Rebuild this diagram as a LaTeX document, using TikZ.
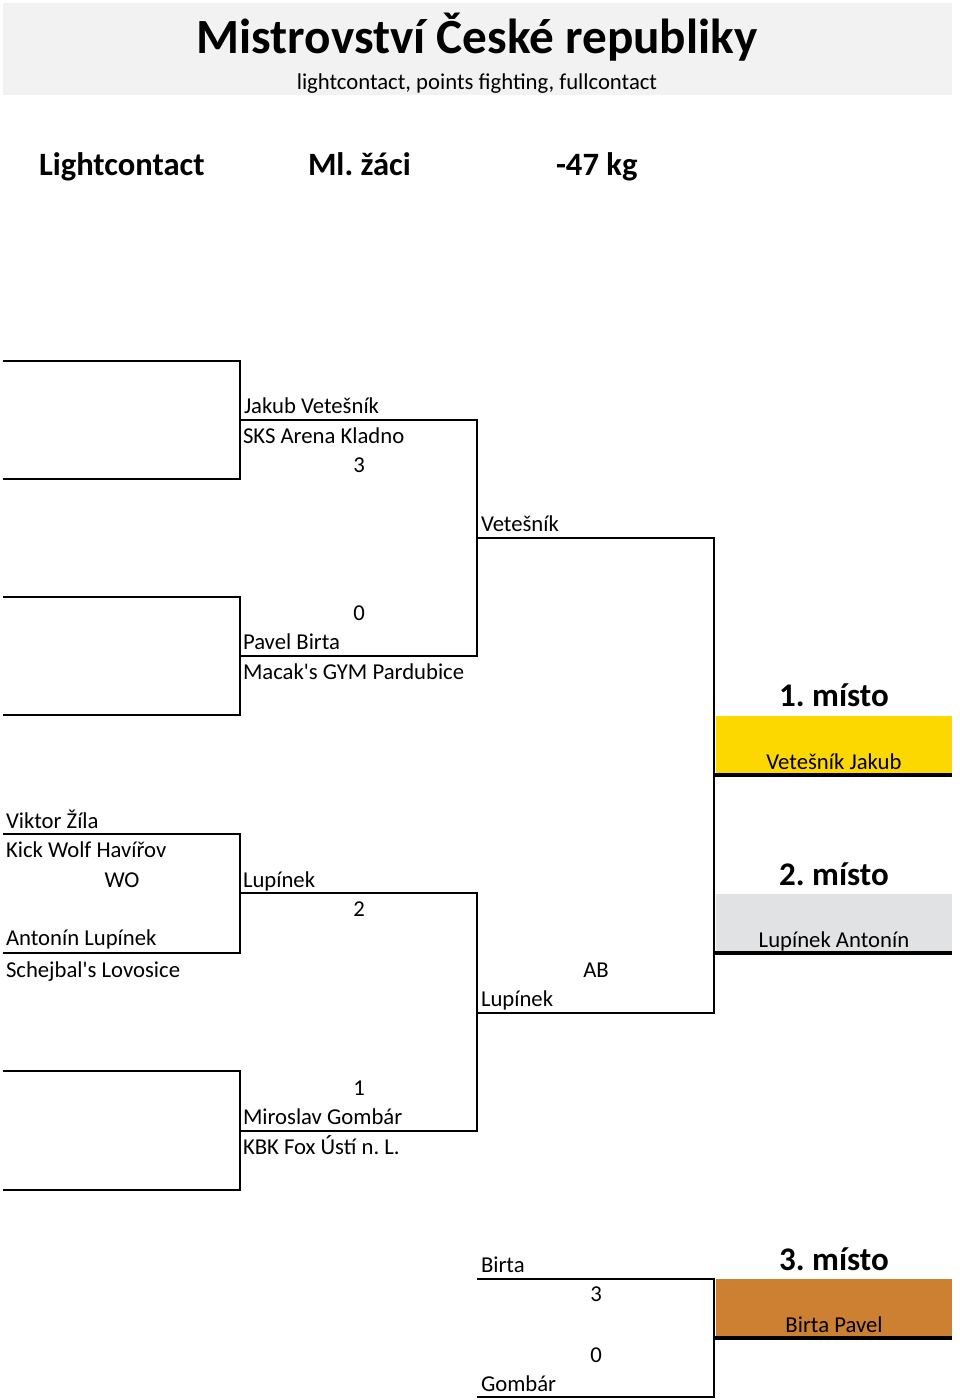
\documentclass[tikz,border=0pt]{standalone}
\usepackage{fontspec}
\setmainfont{Carlito}
\definecolor{hdrgray}{HTML}{F2F2F2}
\definecolor{gold}{HTML}{FDD700}
\definecolor{silver}{HTML}{E1E2E4}
\definecolor{bronze}{HTML}{CD7F32}
\begin{document}
\frenchspacing
\begin{tikzpicture}[x=1pt,y=-1pt,line width=2pt,line join=miter,
  bt/.style={font=\fontsize{22.7}{26}\selectfont,inner sep=0pt,anchor=base west,yshift=-1pt},
  bc/.style={font=\fontsize{22.7}{26}\selectfont,inner sep=0pt,anchor=base,yshift=-1pt},
  hb/.style={font=\fontsize{32.6}{38}\selectfont\bfseries,inner sep=0pt,anchor=base west},
  place/.style={font=\fontsize{33}{38}\selectfont\bfseries,inner sep=0pt,anchor=base,yshift=-1pt},
  thick line/.style={line width=4pt}]
\fill[white] (0,0) rectangle (960,1400);
\useasboundingbox (0,0) rectangle (960,1400);
% header band
\fill[hdrgray] (3,3) rectangle (952,95);
\node[font=\fontsize{49.2}{56}\selectfont\bfseries,inner sep=0pt,anchor=base] (title) at (477,53) {Mistrovství České republiky};
\node[bc] (sub) at (477,88) {lightcontact, points fighting, fullcontact};
\node[hb] (disc) at (38,175) {Lightcontact};
\node[hb] (cat) at (307,175) {Ml. žáci};
\node[hb] (wt) at (555,175) {-47 kg};
% coordinates of bracket
\coordinate (a1) at (3,361); \coordinate (a2) at (240,361);
\coordinate (a3) at (240,479); \coordinate (a4) at (3,479);
\coordinate (b1) at (3,597); \coordinate (b2) at (240,597);
\coordinate (b3) at (240,715); \coordinate (b4) at (3,715);
\coordinate (c1) at (3,834); \coordinate (c2) at (240,834);
\coordinate (c3) at (240,953); \coordinate (c4) at (3,953);
\coordinate (d1) at (3,1071); \coordinate (d2) at (240,1071);
\coordinate (d3) at (240,1190); \coordinate (d4) at (3,1190);
\coordinate (e1) at (240,420); \coordinate (e2) at (477,420);
\coordinate (e3) at (477,656); \coordinate (e4) at (240,656);
\coordinate (f1) at (240,893); \coordinate (f2) at (477,893);
\coordinate (f3) at (477,1131); \coordinate (f4) at (240,1131);
\coordinate (g1) at (477,538); \coordinate (g2) at (714,538);
\coordinate (g3) at (714,1013); \coordinate (g4) at (477,1013);
\coordinate (h1) at (477,1279); \coordinate (h2) at (714,1279);
\coordinate (h3) at (714,1397); \coordinate (h4) at (477,1397);
% placement boxes
\fill[gold] (716,716) rectangle (952,775);
\fill[silver] (716,894) rectangle (952,953);
\fill[bronze] (716,1279) rectangle (952,1338);
\draw[thick line] (714,775) -- (952,775);
\draw[thick line] (714,953) -- (952,953);
\draw[thick line] (714,1338) -- (952,1338);
% bracket lines
\draw (a1) -- (a2) -- (a3) -- (a4);
\draw (b1) -- (b2) -- (b3) -- (b4);
\draw (c1) -- (c2) -- (c3) -- (c4);
\draw (d1) -- (d2) -- (d3) -- (d4);
\draw (e1) -- (e2) -- (e3) -- (e4);
\draw (f1) -- (f2) -- (f3) -- (f4);
\draw (g1) -- (g2) -- (g3) -- (g4);
\draw (h1) -- (h2) -- (h3) -- (h4);
% texts
\node[bt] (t1) at (243,412) {Jakub Vetešník};
\node[bt] (t2) at (242,442) {SKS Arena Kladno};
\node[bc] (s1) at (359,471) {3};
\node[bt] (w1) at (480,530) {Vetešník};
\node[bc] (s2) at (359,619) {0};
\node[bt] (t3) at (242,648) {Pavel Birta};
\node[bt] (t4) at (242,678) {Macak\textquotesingle s GYM Pardubice};
\node[bt] (t5) at (5,827) {Viktor Žíla};
\node[bt] (t6) at (5,856) {Kick Wolf Havířov};
\node[bc] (s3) at (122,886) {WO};
\node[bt] (w2) at (242,886) {Lupínek};
\node[bc] (s4) at (359,915) {2};
\node[bt] (t7) at (5,944) {Antonín Lupínek};
\node[bt] (t8) at (5,976) {Schejbal\textquotesingle s Lovosice};
\node[bc] (s5) at (596,976) {AB};
\node[bt] (w3) at (480,1005) {Lupínek};
\node[bc] (s6) at (359,1094) {1};
\node[bt] (t9) at (242,1123) {Miroslav Gombár};
\node[bt] (t10) at (242,1153) {KBK Fox Ústí n. L.};
\node[bt] (w4) at (480,1271) {Birta};
\node[bc] (s7) at (596,1300) {3};
\node[bc] (s8) at (596,1361) {0};
\node[bt] (w5) at (480,1390) {Gombár};
% placements
\node[place] (p1) at (834,705) {1. místo};
\node[bc] (n1) at (834,768) {Vetešník Jakub};
\node[place] (p2) at (834,884) {2. místo};
\node[bc] (n2) at (834,946) {Lupínek Antonín};
\node[place] (p3) at (834,1269) {3. místo};
\node[bc] (n3) at (834,1331) {Birta Pavel};
\end{tikzpicture}
\end{document}
